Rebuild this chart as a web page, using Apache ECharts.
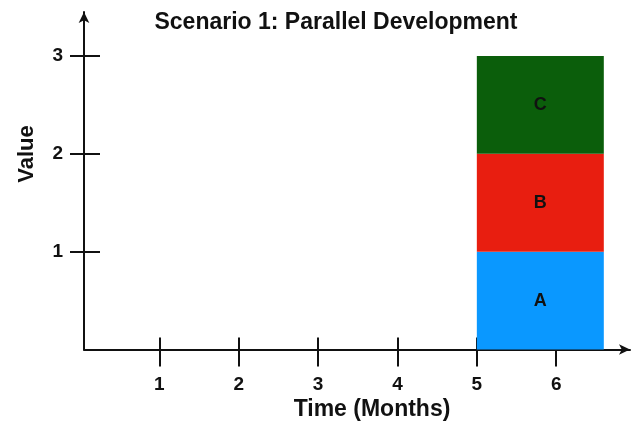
<!DOCTYPE html>
<html>
<head>
<meta charset="utf-8">
<script src="https://cdn.jsdelivr.net/npm/echarts@6/dist/echarts.min.js"></script>
<style>html,body{margin:0;padding:0;background:#fff}#c{width:631px;height:429px}</style>
</head>
<body>
<div id="c"></div>
<script>
const titleText = 'Scenario 1: Parallel Development';
const xAxisName = 'Time (Months)';
const yAxisName = 'Value';
const monthTicks = [1, 2, 3, 4, 5, 6];
const valueTicks = [1, 2, 3];
const segmentNames = ['A', 'B', 'C'];
const segmentValues = [1, 1, 1];
const segmentColors = ['#0A98FF', '#E81E10', '#0B5E0B'];
const barStart = 5;
const barEnd = 6.6;

// build stacked segments
const segData = [];
let base = 0;
segmentValues.forEach((v, i) => {
  segData.push([barStart, barEnd, base, base + v, i]);
  base += v;
});

const font = '"Liberation Sans", Arial, sans-serif';
const ink = '#111';
const chart = echarts.init(document.getElementById('c'));
const axisCommonX = {type: 'value', min: 0.05, max: 6.93, splitLine: {show: false}};
const axisCommonY = {type: 'value', min: 0, max: 3.45, splitLine: {show: false}};
chart.setOption({
  animation: false,
  backgroundColor: '#fff',
  title: {
    text: titleText, left: 331, top: 6, textAlign: 'center',
    textStyle: {fontFamily: font, fontSize: 23, fontWeight: 'bold', color: ink}
  },
  grid: {left: 84, right: 1, top: 12, bottom: 79.5},
  xAxis: [
    Object.assign({}, axisCommonX, {
      position: 'bottom',
      axisLine: {show: true, symbol: ['none', 'arrow'], symbolSize: [8, 11], lineStyle: {color: ink, width: 2}},
      axisTick: {show: true, customValues: monthTicks, length: 17, lineStyle: {color: ink, width: 2}},
      axisLabel: {show: true, customValues: monthTicks, margin: 26, fontFamily: font, fontSize: 19, fontWeight: 'bold', color: ink}
    }),
    Object.assign({}, axisCommonX, {
      position: 'bottom', offset: 0,
      axisLine: {show: false},
      axisTick: {show: true, inside: true, customValues: monthTicks, length: 12, lineStyle: {color: ink, width: 2}},
      axisLabel: {show: false}
    })
  ],
  yAxis: [
    Object.assign({}, axisCommonY, {
      position: 'left',
      axisLine: {show: true, symbol: ['none', 'arrow'], symbolSize: [8, 11], lineStyle: {color: ink, width: 2}},
      axisTick: {show: true, customValues: valueTicks, length: 14, lineStyle: {color: ink, width: 2}},
      axisLabel: {show: true, customValues: valueTicks, margin: 21, fontFamily: font, fontSize: 19, fontWeight: 'bold', color: ink}
    }),
    Object.assign({}, axisCommonY, {
      position: 'left', offset: 0,
      axisLine: {show: false},
      axisTick: {show: true, inside: true, customValues: valueTicks, length: 16, lineStyle: {color: ink, width: 2}},
      axisLabel: {show: false}
    })
  ],
  graphic: [
    {type: 'text', x: 27, y: 154, rotation: Math.PI / 2,
     style: {text: yAxisName, fontFamily: font, fontSize: 22, fontWeight: 'bold', fill: ink, align: 'center', verticalAlign: 'middle'}},
    {type: 'text', x: 372, y: 410,
     style: {text: xAxisName, fontFamily: font, fontSize: 23, fontWeight: 'bold', fill: ink, align: 'center', verticalAlign: 'middle'}}
  ],
  series: [{
    type: 'custom',
    xAxisIndex: 0, yAxisIndex: 0,
    data: segData,
    renderItem: function (params, api) {
      const p0 = api.coord([api.value(0), api.value(3)]);
      const p1 = api.coord([api.value(1), api.value(2)]);
      const idx = api.value(4);
      return {
        type: 'rect',
        shape: {x: p0[0], y: p0[1], width: p1[0] - p0[0], height: p1[1] - p0[1]},
        style: {fill: segmentColors[idx]},
        textContent: {style: {text: segmentNames[idx], fontFamily: font, fontSize: 18, fontWeight: 'bold', fill: ink}},
        textConfig: {position: 'inside'}
      };
    }
  }]
});
</script>
</body>
</html>
